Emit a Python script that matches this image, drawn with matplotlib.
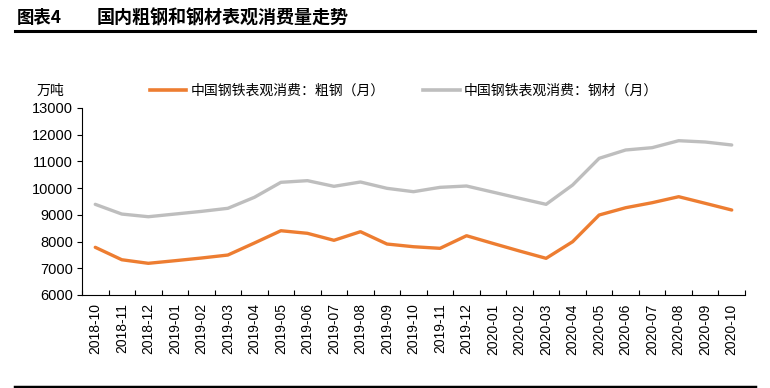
import matplotlib
matplotlib.use("Agg")
import matplotlib.pyplot as plt
from matplotlib.lines import Line2D

plt.rcParams['font.family'] = ['Liberation Sans', 'Noto Sans CJK SC', 'DejaVu Sans']

months = ["2018-10", "2018-11", "2018-12", "2019-01", "2019-02", "2019-03", "2019-04",
          "2019-05", "2019-06", "2019-07", "2019-08", "2019-09", "2019-10", "2019-11",
          "2019-12", "2020-01", "2020-02", "2020-03", "2020-04", "2020-05", "2020-06",
          "2020-07", "2020-08", "2020-09", "2020-10"]
crude_steel = [7785, 7320, 7186, 7283, 7384, 7496, 7946, 8406, 8309, 8047, 8370, 7908,
               7807, 7747, 8219, 7930, 7646, 7373, 7995, 8994, 9267, 9455, 9680, 9432, 9181]
steel_products = [9394, 9030, 8930, 9030, 9130, 9245, 9657, 10218, 10280, 10068, 10230, 9993,
                  9867, 10030, 10080, 9850, 9619, 9394, 10117, 11116, 11428, 11515, 11776, 11727, 11615]
series_names = ["中国钢铁表观消费：粗钢（月）", "中国钢铁表观消费：钢材（月）"]
yticks = [6000, 7000, 8000, 9000, 10000, 11000, 12000, 13000]

orange = "#ED7D31"
gray = "#BEBEBE"

fig = plt.figure(figsize=(7.7, 3.88), dpi=100)
ax = fig.add_axes([82/770, 1 - 295/388, (745 - 82)/770, (295 - 108)/388])

x = list(range(len(months)))
ax.plot(x, steel_products, color=gray, lw=2.4, solid_capstyle='round', zorder=3)
ax.plot(x, crude_steel, color=orange, lw=2.4, solid_capstyle='round', zorder=3)

ax.set_xlim(-0.5, len(months) - 0.5)
ax.set_ylim(6000, 13000)
ax.set_yticks(yticks)
ax.set_yticklabels([str(v) for v in yticks], fontsize=10.5)
ax.set_xticks(x)
ax.set_xticklabels(months, rotation=90, fontsize=10)
ax.tick_params(axis='x', which='major', length=0, pad=6)
ax.set_xticks([i - 0.5 for i in range(len(months) + 1)], minor=True)
ax.tick_params(axis='x', which='minor', direction='in', length=3.5, width=0.8)
ax.tick_params(axis='y', direction='out', length=3.5, width=0.8, pad=3)
for s in ['top', 'right']:
    ax.spines[s].set_visible(False)
for s in ['left', 'bottom']:
    ax.spines[s].set_linewidth(0.8)

# legend
handles = [Line2D([0], [0], color=orange, lw=2.6),
           Line2D([0], [0], color=gray, lw=2.6)]
leg = fig.legend(handles, series_names, loc='center', bbox_to_anchor=(404/770, 1 - 91/388),
                 ncol=2, frameon=False, handlelength=2.6, handletextpad=0.3,
                 columnspacing=2.8, prop={'family': ['Noto Sans CJK SC'], 'size': 10})

fig.text(37/770, 1 - 91/388, "万吨", fontsize=10, va='center', ha='left',
         family=['Noto Sans CJK SC'])

# title
fig.text(17/770, 1 - 18/388, "图表4", fontsize=12.5, fontweight='bold', va='center', ha='left',
         family=['Noto Sans CJK SC'])
fig.text(97/770, 1 - 18/388, "国内粗钢和钢材表观消费量走势", fontsize=13, fontweight='bold',
         va='center', ha='left', family=['Noto Sans CJK SC'])
fig.add_artist(Line2D([15/770, 755/770], [1 - 31/388, 1 - 31/388], color='black', lw=2.2))
fig.add_artist(Line2D([15/770, 755/770], [1 - 387/388, 1 - 387/388], color='black', lw=2.5))

fig.savefig("out.png", dpi=100)
